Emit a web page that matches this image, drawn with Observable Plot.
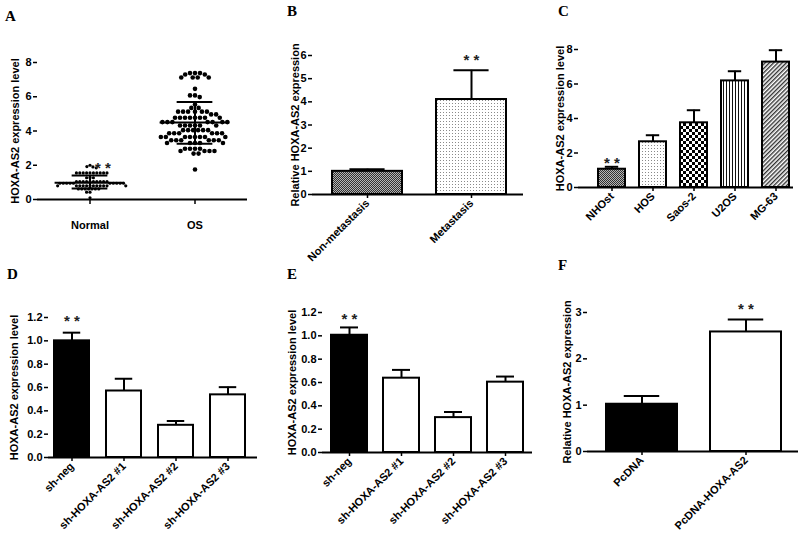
<!DOCTYPE html>
<html><head><meta charset="utf-8">
<script src="https://cdn.jsdelivr.net/npm/d3@7"></script>
<script src="https://cdn.jsdelivr.net/npm/@observablehq/plot@0.6"></script>
<style>
html,body{margin:0;padding:0;background:#fff;}
#fig{position:relative;width:800px;height:537px;overflow:hidden;background:#fff;}
.panel{position:absolute;}
.panel svg{overflow:visible;max-width:none;}
.panel svg text{font-weight:bold;}
.letter{position:absolute;font-family:"Liberation Serif","Times New Roman",serif;font-weight:bold;font-size:15px;line-height:15px;}
</style></head>
<body>
<div id="fig">
<svg width="0" height="0" style="position:absolute;left:0;top:0">
<defs>
<pattern id="pCross" width="2" height="2" patternUnits="userSpaceOnUse">
<rect width="2" height="2" fill="#b4b4b4"/><rect width="1" height="1" fill="#303030"/><rect x="1" y="1" width="1" height="1" fill="#303030"/>
</pattern>
<pattern id="pDots" width="3" height="3" patternUnits="userSpaceOnUse">
<rect width="3" height="3" fill="#fff"/><rect x="1" y="1" width="1" height="1" fill="#8a8a8a"/>
</pattern>
<pattern id="pCheck" width="6" height="6" patternUnits="userSpaceOnUse">
<rect width="6" height="6" fill="#fff"/><rect width="3" height="3" fill="#000"/><rect x="3" y="3" width="3" height="3" fill="#000"/>
</pattern>
<pattern id="pVert" width="3" height="3" patternUnits="userSpaceOnUse">
<rect width="3" height="3" fill="#fff"/><rect x="1" width="1" height="3" fill="#111"/>
</pattern>
<pattern id="pDiag" width="3" height="3" patternUnits="userSpaceOnUse" patternTransform="rotate(45)">
<rect width="3" height="3" fill="#fff"/><rect width="1.4" height="3" fill="#333"/>
</pattern>
</defs>
</svg>
</div>
<script>
// ---------- Panel A data ----------
const groupsA = ["Normal", "OS"];
const normalValues = [2.0, 1.92, 1.9, 1.85,
  1.55,1.55,1.55,1.55,1.55,1.55,1.55,1.55,1.55,1.55,
  1.27,1.27,1.27,
  1.05,1.05,1.05,1.05,1.05,1.05,1.05,1.05,1.05,1.05,
  0.95,0.95,0.95,0.95,0.95,0.95,0.95,0.95,0.95,0.95,
  0.8,0.8,0.8,0.8,0.8,0.8,0.8,0.8,0.8,0.8,0.8,0.8,
  0.62,0.62,0.62,0.62,0.62,0.62,0.62,
  0.43,0.43, 0.1];
const osValues = [7.38,7.38,7.38, 7.3,7.3, 7.12,7.12,7.12,7.12, 6.46, 6.08,6.08, 5.98, 5.55, 5.35,5.35,
  5.13,5.13,5.13,5.13,5.13,5.13, 4.97,4.97,
  4.77,4.77,4.77,4.77,4.77,4.77,4.77,4.77,
  4.52,4.52,4.52,4.52,4.52,4.52,4.52,
  4.32,4.32,4.32,4.32,4.32,4.32,
  4.05,4.05,4.05,4.05,4.05,4.05,
  3.87,3.87,3.87,3.87,3.87,3.87,
  3.65,3.65,3.65,3.65,3.65,3.65,3.65,3.65,
  3.46,3.46,3.46,3.46,3.46,3.46,
  3.3,3.3,3.3,3.3,3.3,
  2.96,2.96,2.96,2.96, 2.83,2.83,2.83,2.83, 2.68,2.68, 1.75];
const meanA = [0.98, 4.5];
const sdLowA = [0.64, 3.25];
const sdHighA = [1.4, 5.7];
const titleA = "HOXA-AS2 expression level";
const yTicksA = [0, 2, 4, 6, 8];

// ---------- Panel B data ----------
const catsB = ["Non-metastasis", "Metastasis"];
const valsB = [1.0, 4.1];
const errsB = [0.09, 1.26];
const fillsB = ["url(#pCross)", "url(#pDots)"];
const starsB = [false, true];
const titleB = "Relative HOXA-AS2 expression";
const yTicksB = [0, 1, 2, 3, 4, 5, 6];

// ---------- Panel C data ----------
const catsC = ["NHOst", "HOS", "Saos-2", "U2OS", "MG-63"];
const valsC = [1.06, 2.65, 3.75, 6.18, 7.27];
const errsC = [0.14, 0.38, 0.73, 0.56, 0.69];
const fillsC = ["url(#pCross)", "url(#pDots)", "url(#pCheck)", "url(#pVert)", "url(#pDiag)"];
const starsC = [true, false, false, false, false];
const titleC = "HOXA-AS2 expression level";
const yTicksC = [0, 2, 4, 6, 8];

// ---------- Panel D data ----------
const catsD = ["sh-neg", "sh-HOXA-AS2 #1", "sh-HOXA-AS2 #2", "sh-HOXA-AS2 #3"];
const valsD = [1.0, 0.57, 0.276, 0.537];
const errsD = [0.07, 0.105, 0.037, 0.066];
const fillsD = ["#000", "#fff", "#fff", "#fff"];
const starsD = [true, false, false, false];
const titleD = "HOXA-AS2 expression level";
const yTicksD = [0, 0.2, 0.4, 0.6, 0.8, 1.0, 1.2];

// ---------- Panel E data ----------
const catsE = ["sh-neg", "sh-HOXA-AS2 #1", "sh-HOXA-AS2 #2", "sh-HOXA-AS2 #3"];
const valsE = [1.005, 0.637, 0.299, 0.603];
const errsE = [0.067, 0.071, 0.048, 0.048];
const fillsE = ["#000", "#fff", "#fff", "#fff"];
const starsE = [true, false, false, false];
const titleE = "HOXA-AS2 expression level";
const yTicksE = [0, 0.2, 0.4, 0.6, 0.8, 1.0, 1.2];

// ---------- Panel F data ----------
const catsF = ["PcDNA", "PcDNA-HOXA-AS2"];
const valsF = [1.02, 2.58];
const errsF = [0.18, 0.27];
const fillsF = ["#000", "#fff"];
const starsF = [false, true];
const titleF = "Relative HOXA-AS2 expression";
const yTicksF = [0, 1, 2, 3];

// ---------- rendering ----------
const FONT = '"Liberation Sans", Arial, Helvetica, sans-serif';
const fig = document.getElementById("fig");
function place(el, left, top, w, h) {
  const d = document.createElement("div");
  d.className = "panel";
  d.style.left = left + "px"; d.style.top = top + "px";
  d.style.width = w + "px"; d.style.height = h + "px";
  d.appendChild(el);
  fig.appendChild(d);
}
function letter(t, left, top) {
  const d = document.createElement("div");
  d.className = "letter"; d.textContent = t;
  d.style.left = left + "px"; d.style.top = top + "px";
  fig.appendChild(d);
}
const baseStyle = {fontFamily: FONT, fontWeight: "bold", fontSize: "11px", color: "#000", background: "transparent", overflow: "visible"};
const axisText = {fontSize: 11, fontWeight: "bold", fill: "#000"};

function barPanel(o) {
  const data = o.cats.map((c, i) => ({cat: c, value: o.vals[i], hi: o.vals[i] + o.errs[i], fill: o.fills[i], star: o.stars[i]}));
  const bw = d3.scaleBand().domain(o.cats).range(o.xRange).paddingInner(o.pad).paddingOuter(o.pad / 2).bandwidth();
  return Plot.plot({
    width: o.w, height: o.h,
    marginLeft: o.ml, marginRight: o.mr, marginTop: o.mt, marginBottom: o.mb,
    style: baseStyle,
    x: {type: "band", domain: o.cats, range: o.xRange, paddingInner: o.pad, paddingOuter: o.pad / 2, axis: null},
    y: {domain: o.yDomain, axis: null},
    color: {type: "identity"},
    marks: [
      Plot.ruleX(data, {x: "cat", y1: "value", y2: "hi", stroke: "#000", strokeWidth: 2}),
      Plot.tickY(data, {x: "cat", y: "hi", stroke: "#000", strokeWidth: 2, insetLeft: bw / 4, insetRight: bw / 4}),
      Plot.barY(data, {x: "cat", y: "value", fill: "fill", stroke: "#000", strokeWidth: 2}),
      Plot.axisY({ticks: o.yTicks, tickFormat: o.yFormat, tickSize: 4, tickPadding: 2, strokeWidth: 1.5, line: true, label: null, ...axisText}),
      Plot.axisX({tickRotate: -45, tickSize: 4, tickPadding: 3, strokeWidth: 1.5, label: null, ...axisText}),
      Plot.ruleY([0], {stroke: "#000", strokeWidth: 1.8}),
      Plot.text([o.title], {frameAnchor: "left", dx: o.titleDx, rotate: -90, textAnchor: "middle", lineAnchor: "middle", fontSize: 11, fontWeight: "bold", text: d => d}),
      Plot.text(data.filter(d => d.star), {x: "cat", y: "hi", text: () => "* *", dy: o.starDy, fontSize: 15, fontWeight: "normal", fill: "#222"})
    ]
  });
}

// Panel A: scatter dot plot with mean ± SD
const dotsNormal = normalValues.map(v => ({g: groupsA[0], v}));
const dotsOS = osValues.map(v => ({g: groupsA[1], v}));
const statsA = groupsA.map((g, i) => ({g, mean: meanA[i], lo: sdLowA[i], hi: sdHighA[i]}));
const plotA = Plot.plot({
  width: 265, height: 250,
  marginLeft: 36, marginRight: 18, marginTop: 62, marginBottom: 51,
  style: baseStyle,
  fx: {domain: groupsA, padding: 0, label: null, axis: null},
  x: {domain: [-1, 1], axis: null},
  y: {domain: [0, 8], axis: null},
  marks: [
    Plot.ruleY([0], {stroke: "#000", strokeWidth: 1.8}),
    Plot.dot(dotsNormal, Plot.dodgeX({anchor: "middle", padding: 0.2}, {fx: "g", y: "v", r: 1.6, fill: "#000", stroke: null})),
    Plot.dot(dotsOS, Plot.dodgeX({anchor: "middle", padding: 0.4}, {fx: "g", y: "v", r: 2.3, fill: "#000", stroke: null})),
    Plot.ruleY(statsA, {fx: "g", y: "mean", x1: -0.665, x2: 0.665, stroke: "#000", strokeWidth: 2}),
    Plot.ruleY(statsA, {fx: "g", y: "lo", x1: -0.34, x2: 0.34, stroke: "#000", strokeWidth: 2}),
    Plot.ruleY(statsA, {fx: "g", y: "hi", x1: -0.34, x2: 0.34, stroke: "#000", strokeWidth: 2}),
    Plot.ruleX(statsA, {fx: "g", x: () => 0, y1: "lo", y2: "hi", stroke: "#000", strokeWidth: 2}),
    Plot.axisY({ticks: yTicksA, tickSize: 4, tickPadding: 2, strokeWidth: 1.5, line: true, label: null, ...axisText}),
    Plot.axisFx({anchor: "bottom", tickSize: 5, tickPadding: 17, strokeWidth: 1.5, label: null, ...axisText}),
    Plot.text([titleA], {fx: () => groupsA[0], frameAnchor: "left", dx: -22, rotate: -90, textAnchor: "middle", lineAnchor: "middle", fontSize: 11, fontWeight: "bold", text: d => d}),
    Plot.text([{g: groupsA[0], y: 2.0}], {fx: "g", y: "y", x: () => 0, text: () => "* *", dx: 13, dy: 3, fontSize: 15, fontWeight: "normal", fill: "#222"})
  ]
});
place(plotA, 0, 0, 265, 250);

place(barPanel({cats: catsB, vals: valsB, errs: errsB, fills: fillsB, stars: starsB, title: titleB,
  yTicks: yTicksB, yDomain: [0, 6], yFormat: d3.format("d"),
  w: 270, h: 250, ml: 47, mr: 12, mt: 55, mb: 56, xRange: [50, 258], pad: 0.33, titleDx: -17, starDy: -10}), 265, 0, 270, 250);

place(barPanel({cats: catsC, vals: valsC, errs: errsC, fills: fillsC, stars: starsC, title: titleC,
  yTicks: yTicksC, yDomain: [0, 8], yFormat: d3.format("d"),
  w: 270, h: 250, ml: 48, mr: 7, mt: 49, mb: 63, xRange: [60.4, 266.6], pad: 0.34, titleDx: -18, starDy: -4}), 530, 0, 270, 250);

place(barPanel({cats: catsD, vals: valsD, errs: errsD, fills: fillsD, stars: starsD, title: titleD,
  yTicks: yTicksD, yDomain: [0, 1.2], yFormat: d3.format(".1f"),
  w: 265, h: 287, ml: 48, mr: 8, mt: 67, mb: 80, xRange: [44.2, 255], pad: 0.335, titleDx: -34, starDy: -11}), 0, 250, 265, 287);

place(barPanel({cats: catsE, vals: valsE, errs: errsE, fills: fillsE, stars: starsE, title: titleE,
  yTicks: yTicksE, yDomain: [0, 1.2], yFormat: d3.format(".1f"),
  w: 270, h: 287, ml: 57, mr: 3, mt: 62, mb: 85, xRange: [58, 266], pad: 0.31, titleDx: -30, starDy: -8}), 265, 250, 270, 287);

place(barPanel({cats: catsF, vals: valsF, errs: errsF, fills: fillsF, stars: starsF, title: titleF,
  yTicks: yTicksF, yDomain: [0, 3], yFormat: d3.format("d"),
  w: 270, h: 287, ml: 57, mr: 2, mt: 62, mb: 86, xRange: [59.25, 268.25], pad: 0.32, titleDx: -20, starDy: -10}), 530, 250, 270, 287);

letter("A", 5, 9);
letter("B", 287, 4);
letter("C", 558, 4);
letter("D", 7, 267);
letter("E", 287, 267);
letter("F", 558, 258);
</script>
</body></html>
